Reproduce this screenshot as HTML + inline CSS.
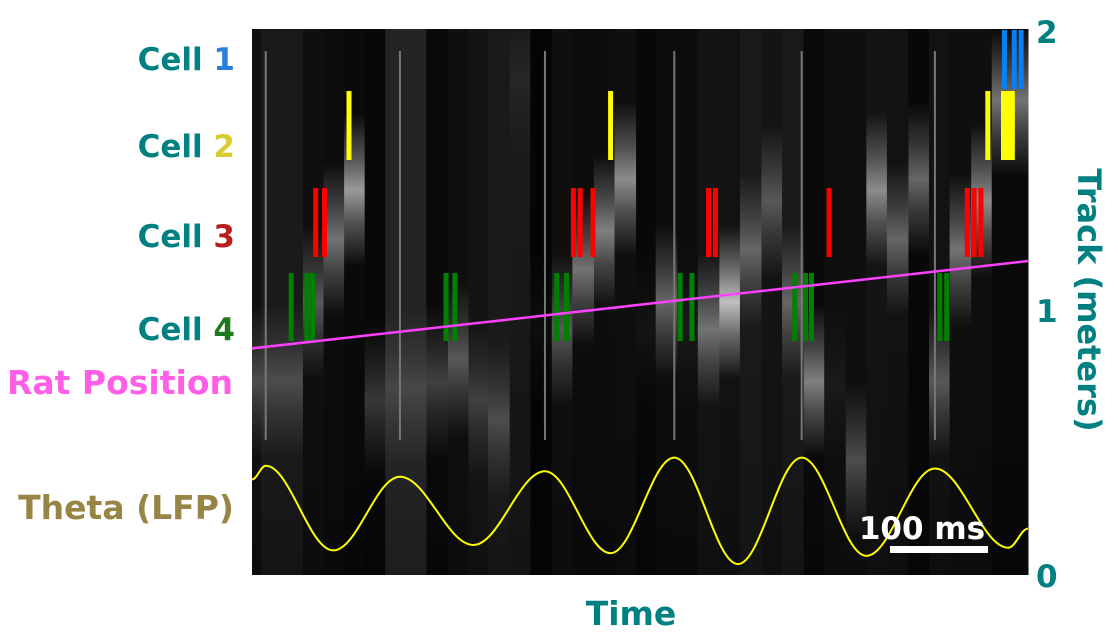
<!DOCTYPE html>
<html><head><meta charset="utf-8">
<style>
html,body{margin:0;padding:0;background:#fff;}
svg{display:block;font-family:"DejaVu Sans","Liberation Sans",sans-serif;font-weight:bold;}
</style></head>
<body>
<svg id="chart" width="1118" height="632" viewBox="0 0 1118 632" xmlns="http://www.w3.org/2000/svg">
<defs id="defs"></defs>
<rect x="252" y="29" width="776" height="546" fill="#000"/>
<g id="heat"></g>
<g id="grid"></g>
<g id="spikes"></g>
<g id="pos"></g>
<g id="theta"></g>
<g>
<rect x="890" y="546" width="98" height="7" fill="#fff"/>
<text x="922" y="539" font-size="31" fill="#fff" text-anchor="middle">100 ms</text>
</g>
<g font-size="31" text-anchor="end">
<text x="235" y="70" fill="#008080">Cell <tspan fill="#2a7fdc">1</tspan></text>
<text x="235" y="157" fill="#008080">Cell <tspan fill="#d8cc30">2</tspan></text>
<text x="235" y="247" fill="#008080">Cell <tspan fill="#bb1c1c">3</tspan></text>
<text x="235" y="340" fill="#008080">Cell <tspan fill="#1e7a1e">4</tspan></text>
<text x="233" y="394" fill="#ff5fe6" font-size="33">Rat Position</text>
<text x="234" y="519" fill="#978545" font-size="33">Theta (LFP)</text>
</g>
<g font-size="31" fill="#008080">
<text x="1036" y="43">2</text>
<text x="1036" y="322">1</text>
<text x="1036" y="587">0</text>
<text transform="translate(1078,300) rotate(90)" text-anchor="middle" font-size="32">Track (meters)</text>
</g>
<text x="631" y="625" font-size="33" fill="#008080" text-anchor="middle">Time</text>
</svg>
<script>
// x domain: time in ms ; y: track position meters (0..2)
const heatColStart = [0,9,31,52,73,94,115,136,178,200,221,241,263,284,306,327,349,370,392,412,434,455,477,498,520,541,563,584,606,627,648,670,691,712,734,755];
const heatColPeak  = [0.71,0.71,0.71,1.0,1.23,1.41,0.64,0.68,0.71,0.79,0.64,0.57,1.81,0.9,0.9,1.12,1.26,1.45,0.9,1.0,0.9,0.9,1.0,1.19,1.37,1.0,0.71,0.7,0.42,1.41,1.23,1.45,0.71,1.19,1.37,1.74];
const heatColBright= [0.3,0.3,0.3,0.35,0.45,0.6,0.22,0.28,0.25,0.35,0.25,0.3,0.15,0.05,0.35,0.45,0.5,0.55,0.08,0.4,0.1,0.45,0.75,0.4,0.35,0.4,0.5,0.1,0.3,0.55,0.4,0.4,0.35,0.45,0.55,0.45];
const heatColBase  = [0.06,0.1,0.1,0.06,0.05,0.04,0.03,0.14,0.04,0.06,0.08,0.1,0.1,0.02,0.06,0.05,0.05,0.06,0.03,0.05,0.05,0.08,0.07,0.1,0.08,0.1,0.04,0.06,0.06,0.08,0.07,0.03,0.07,0.06,0.06,0.04];
const troughTimes = [14,151,299,431,561,697];
const posTimes = [0,792];
const posValues = [0.83,1.15];
const cell1Times = [768,778,785];
const cell2Times = [99,366,751,767,770,773,776];
const cell3Times = [65,74,328,335,348,466,473,589,730,737,744];
const cell4Times = [40,56,62,198,207,311,321,437,449,554,565,571,702,709];
const thetaTimes = [0,14,83,151,226,299,366,431,496,561,627,697,772,792];
const thetaValues = [0.35,0.40,0.09,0.36,0.11,0.38,0.08,0.43,0.04,0.43,0.07,0.39,0.10,0.17];

const X0=252,X1=1028,Y0=575,Y1=29,TMAX=792;
const sx=t=>X0+t*(X1-X0)/TMAX;
const sy=v=>Y0-v*(Y0-Y1)/2;
const NS="http://www.w3.org/2000/svg";
function mk(tag,attrs,parent){const e=document.createElementNS(NS,tag);for(const k in attrs)e.setAttribute(k,attrs[k]);parent.appendChild(e);return e;}
const defs=document.getElementById('defs');
const heat=document.getElementById('heat');
const g=v=>{const c=Math.round(Math.min(1,v)*255);return `rgb(${c},${c},${c})`;};
heatColStart.forEach((t,i)=>{
  const tEnd = i<heatColStart.length-1?heatColStart[i+1]:TMAX;
  const gid='hg'+i;
  const lg=mk('linearGradient',{id:gid,x1:0,y1:0,x2:0,y2:1},defs);
  const pk=1-heatColPeak[i]/2;
  const b=heatColBase[i],p=heatColBright[i];
  const stops=[[0,b],[Math.max(0,pk-0.14),b],[Math.max(0,pk-0.06),(b+p)/2],[pk,p],[Math.min(1,pk+0.06),(b+p)/2],[Math.min(1,pk+0.14),b],[1,b*0.8]];
  stops.forEach(s=>mk('stop',{offset:s[0],'stop-color':g(s[1])},lg));
  const r=mk('rect',{x:sx(t),y:Y1,width:sx(tEnd)-sx(t)+0.5,height:Y0-Y1,fill:`url(#${gid})`},heat);
  
  
});
const grid=document.getElementById('grid');
troughTimes.forEach(t=>{
  const l=mk('line',{x1:sx(t),x2:sx(t),y1:51,y2:440,stroke:'#777','stroke-width':2},grid);
  
  
});
const spikes=document.getElementById('spikes');
function raster(times,color,yTop,yBot,name){
  times.forEach(t=>{
    const r=mk('rect',{x:sx(t)-2.5,y:yTop,width:5,height:yBot-yTop,fill:color},spikes);
    
    
  });
}
raster(cell1Times,'#0a7ff0',30,89,'cell-1-spike');
raster(cell2Times,'#ffff00',91,160,'cell-2-spike');
raster(cell3Times,'#ff0000',188,257,'cell-3-spike');
raster(cell4Times,'#008000',273,341,'cell-4-spike');
const pos=document.getElementById('pos');
const pl=mk('polyline',{points:posTimes.map((t,i)=>sx(t)+','+sy(posValues[i])).join(' '),fill:'none',stroke:'#ff40ff','stroke-width':2.5},pos);


const tg=document.getElementById('theta');
let d=`M${sx(thetaTimes[0])},${sy(thetaValues[0])}`;
for(let i=1;i<thetaTimes.length;i++){
  const xa=sx(thetaTimes[i-1]),ya=sy(thetaValues[i-1]),xb=sx(thetaTimes[i]),yb=sy(thetaValues[i]);
  const k=(xb-xa)*0.36;
  d+=` C${xa+k},${ya} ${xb-k},${yb} ${xb},${yb}`;
}
const tp=mk('path',{d:d,fill:'none',stroke:'#ffff00','stroke-width':2},tg);


</script>
</body></html>
